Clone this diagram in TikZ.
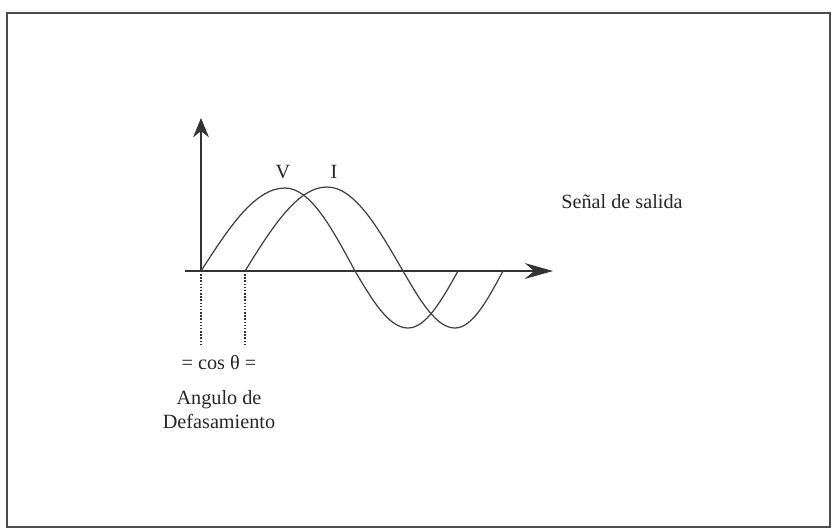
\documentclass[tikz,border=0pt]{standalone}
\usepackage{fontspec}
\setmainfont{Liberation Serif}
\usepackage{tikz}
\usetikzlibrary{arrows.meta, positioning}

\begin{document}
\begin{tikzpicture}[
  x=0.02cm, y=-0.02cm,
  frame/.style={line width=1.2pt, black!70},
  axis/.style={-{Stealth[length=11pt, width=9pt]}, line width=0.8pt, black!80},
  wave/.style={line width=0.7pt, black!75},
  guide/.style={densely dotted, line width=0.8pt, black!80},
  lbl/.style={font=\fontsize{11.5}{14}\selectfont, text=black!85, inner sep=1pt}
]
\useasboundingbox (0,0) rectangle (833,529);

%% Frame
\draw[frame] (7,13) rectangle (830,527);

%% Axes
\coordinate (o)    at (201,271);
\coordinate (ytop) at (201,118);
\coordinate (xl)   at (185,271);
\coordinate (xr)   at (553,271);
\draw[axis] (o) -- (ytop);
\draw[axis, -{Stealth[length=16pt, width=9pt]}] (xl) -- (xr);

%% Waves V and I
\coordinate (i0) at (245,271);
\draw[wave] (o) sin (285,188) cos (355,271) sin (408,328) cos (458,271);
\draw[wave] (i0) sin (327,187) cos (403,271) sin (455,328) cos (503,271);
\node[lbl] (v) at (283,172) {V};
\node[lbl] (i) at (334,172) {I};

%% Output label
\node[lbl] (salida) at (622,202) {Señal de salida};

%% Phase shift guides
\coordinate (d1) at (201,345);
\coordinate (d2) at (245,345);
\draw[guide] (o) -- (d1);
\draw[guide] (i0) -- (d2);
\node[lbl] (cos) at (219,363) {= cos θ =};
\node[lbl, align=center, below=9pt of cos] (angulo) {Angulo de\\Defasamiento};

\end{tikzpicture}
\end{document}
